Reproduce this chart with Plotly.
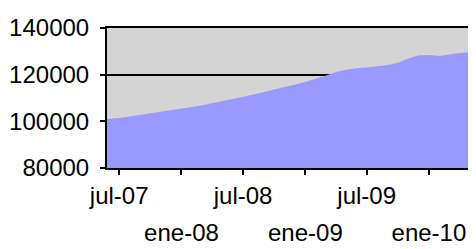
import pandas as pd
import plotly.graph_objects as go

# Data (monthly, first point is the left edge of the plot)
month_starts = [d.strftime("%Y-%m-%d") for d in pd.date_range("2007-07-01", "2010-06-01", freq="MS")]
dates = ["2007-05-26"] + month_starts
values = [101000,
          101400, 102100, 102800, 103500, 104200, 104800,
          105400, 106000, 106750, 107700, 108600, 109450,
          110400, 111450, 112600, 113600, 114700, 115700,
          116900, 118200, 119600, 121000, 122100, 122800,
          123100, 123600, 124100, 125000, 126900, 128200,
          128400, 128000, 128650, 129250, 129700, 130100]

jul_ticks = ["2007-07-01", "2008-07-01", "2009-07-01"]
jul_labels = ["jul-07", "jul-08", "jul-09"]
ene_ticks = ["2008-01-01", "2009-01-01", "2010-01-01"]
ene_labels = ["ene-08", "ene-09", "ene-10"]
y_ticks = [80000, 100000, 120000, 140000]

FONT = "Liberation Sans, Arial, sans-serif"
x_range = ["2007-05-26", "2010-05-20"]

fig = go.Figure()
fig.add_trace(go.Scatter(
    x=dates, y=values, mode="lines", fill="tozeroy",
    line=dict(width=0, color="#9999FF"), fillcolor="#9999FF",
    hoverinfo="skip", showlegend=False))
fig.add_trace(go.Scatter(x=[], y=[], xaxis="x2", showlegend=False))

all_ticks = sorted(jul_ticks + ene_ticks)
main_text = [jul_labels[jul_ticks.index(t)] if t in jul_ticks else "" for t in all_ticks]

# The page body has an 8px margin, so the figure is sized/offset to compensate.
fig.update_layout(
    width=468, height=241,
    margin=dict(l=99, r=0, t=20, b=81),
    paper_bgcolor="white", plot_bgcolor="#D4D4D4",
    font=dict(family=FONT, size=24, color="black"),
    xaxis=dict(type="date", range=x_range, tickvals=all_ticks, ticktext=main_text,
               ticks="outside", ticklen=5, tickwidth=1.5, tickcolor="black",
               showline=True, mirror=True, linecolor="black", linewidth=2,
               showgrid=False, zeroline=False, automargin=False,
               ticklabelstandoff=0,
               tickfont=dict(family=FONT, size=24, color="black")),
    xaxis2=dict(type="date", range=x_range, overlaying="x", anchor="y", side="bottom",
                tickvals=ene_ticks, ticktext=ene_labels, ticks="",
                showline=False, showgrid=False, zeroline=False, automargin=False,
                ticklabelstandoff=48,
                tickfont=dict(family=FONT, size=24, color="black")),
    yaxis=dict(range=[80000, 140000], tickvals=y_ticks, ticktext=[str(v) for v in y_ticks],
               ticks="outside", ticklen=5, tickwidth=1.5, tickcolor="black",
               showline=True, linecolor="black", linewidth=2,
               showgrid=True, gridcolor="black", gridwidth=1.5, zeroline=False,
               automargin=False, ticklabelstandoff=6,
               tickfont=dict(family=FONT, size=24, color="black")),
)

fig.write_html("out.html")
